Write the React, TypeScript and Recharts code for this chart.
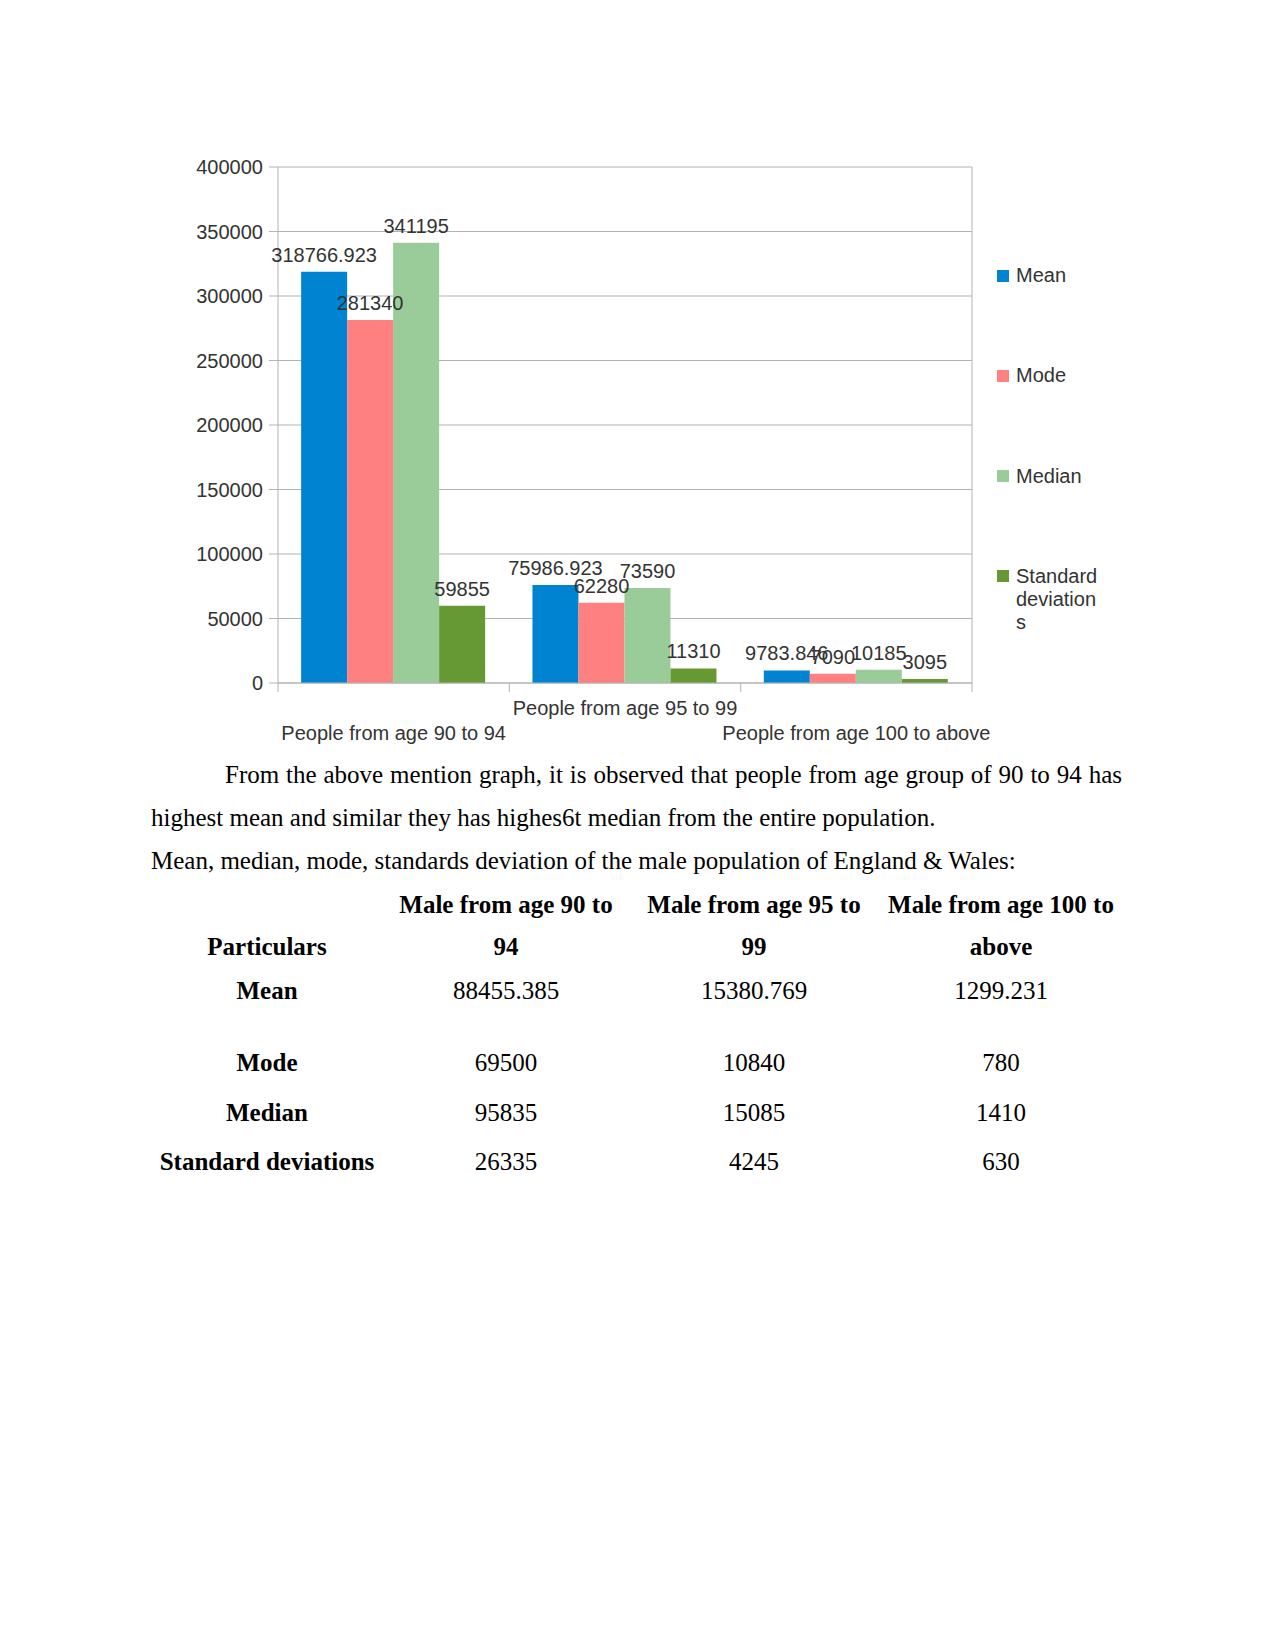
import React from "react";
import {
  BarChart,
  Bar,
  XAxis,
  YAxis,
  CartesianGrid,
  Legend,
  LabelList,
} from "recharts";

// chart values
const categories = [
  "People from age 90 to 94",
  "People from age 95 to 99",
  "People from age 100 to above",
];
const meanValues = [318766.923, 75986.923, 9783.846];
const modeValues = [281340, 62280, 7090];
const medianValues = [341195, 73590, 10185];
const sdValues = [59855, 11310, 3095];
const yTicks = [0, 50000, 100000, 150000, 200000, 250000, 300000, 350000, 400000];

// text under the chart
const paragraphLines = [
  "From the above mention graph, it is observed that people from age group of 90 to 94 has",
  "highest mean and similar they has highes6t median from the entire population.",
  "Mean, median, mode, standards deviation of the male population of England & Wales:",
];
const tableHeader = [
  ["", "Particulars"],
  ["Male from age 90 to", "94"],
  ["Male from age 95 to", "99"],
  ["Male from age 100 to", "above"],
];
const rowLabels = ["Mean", "Mode", "Median", "Standard deviations"];
const col90 = ["88455.385", "69500", "95835", "26335"];
const col95 = ["15380.769", "10840", "15085", "4245"];
const col100 = ["1299.231", "780", "1410", "630"];

const series = [
  { key: "mean", name: "Mean", color: "#0084d1" },
  { key: "mode", name: "Mode", color: "#ff8080" },
  { key: "median", name: "Median", color: "#99cc99" },
  { key: "sd", name: "Standard deviations", color: "#669933" },
];

const data = categories.map((name, i) => ({
  name,
  mean: meanValues[i],
  mode: modeValues[i],
  median: medianValues[i],
  sd: sdValues[i],
}));

const SANS = '"Liberation Sans", Arial, sans-serif';
const SERIF = '"Liberation Serif", "Times New Roman", serif';
const GRID = "#b3b3b3";
const TEXT = "#333333";

// staggered category labels plus tick marks on the category boundaries
const CategoryTick = (props: any) => {
  const { x, y, payload, index, width, visibleTicksCount } = props;
  const n = visibleTicksCount || categories.length;
  const band = (width || 694) / n;
  const upper = index % 2 === 1;
  return (
    <g>
      <line x1={x - band / 2} x2={x - band / 2} y1={y} y2={y + 9} stroke={GRID} />
      {index === n - 1 && (
        <line x1={x + band / 2} x2={x + band / 2} y1={y} y2={y + 9} stroke={GRID} />
      )}
      <text
        x={x}
        y={y + (upper ? 32 : 57)}
        textAnchor="middle"
        fill={TEXT}
        fontSize={20}
        fontFamily={SANS}
      >
        {payload.value}
      </text>
    </g>
  );
};

const renderLegend = () => (
  <div style={{ position: "relative", width: 120, fontFamily: SANS }}>
    {series.map((s, i) => (
      <div
        key={s.key}
        style={{
          position: "absolute",
          top: i * 100.3,
          left: 0,
          display: "flex",
          alignItems: "flex-start",
        }}
      >
        <div
          style={{
            width: 12,
            height: 12,
            marginTop: 5.5,
            marginRight: 7,
            background: s.color,
            flexShrink: 0,
          }}
        />
        <div
          style={{
            width: 84,
            fontSize: 20,
            lineHeight: "23px",
            color: TEXT,
            overflowWrap: "anywhere",
          }}
        >
          {s.name}
        </div>
      </div>
    ))}
  </div>
);

// right edge of the plot frame
const frameRight = ({ offset }: any) => [offset.left + offset.width];

const Chart = () => (
  <BarChart
    width={1275}
    height={770}
    data={data}
    margin={{ top: 167, right: 303, bottom: 7, left: 0 }}
    barCategoryGap="10%"
    barGap={0}
  >
    <CartesianGrid stroke={GRID} verticalCoordinatesGenerator={frameRight} />
    <XAxis
      dataKey="name"
      height={80}
      interval={0}
      tickLine={false}
      tickSize={0}
      tickMargin={0}
      axisLine={{ stroke: GRID }}
      tick={<CategoryTick />}
    />
    <YAxis
      width={278}
      domain={[0, 400000]}
      ticks={yTicks}
      interval={0}
      tickSize={9}
      tickMargin={6}
      tickLine={{ stroke: GRID }}
      axisLine={{ stroke: GRID }}
      tick={{ fill: TEXT, fontSize: 20, fontFamily: SANS }}
    />
    <Legend
      content={renderLegend}
      wrapperStyle={{ left: 997, top: 264, width: 130 }}
    />
    {series.map((s) => (
      <Bar
        key={s.key}
        dataKey={s.key}
        name={s.name}
        fill={s.color}
        isAnimationActive={false}
      >
        <LabelList
          dataKey={s.key}
          position="top"
          offset={10}
          fill={TEXT}
          fontSize={20}
          fontFamily={SANS}
        />
      </Bar>
    ))}
  </BarChart>
);

const colCenters = [267, 506, 754, 1001];
const colWidth = 240;
const headerTops = [883, 925];
const rowTops = [969, 1041, 1091, 1140];

const cell = (text: string, center: number, top: number, bold: boolean, key: string) => (
  <div
    key={key}
    style={{
      position: "absolute",
      left: center - colWidth / 2,
      top,
      width: colWidth,
      textAlign: "center",
      fontWeight: bold ? "bold" : "normal",
      whiteSpace: "nowrap",
    }}
  >
    {text}
  </div>
);

export default function App() {
  return (
    <div
      style={{
        position: "absolute",
        left: 0,
        top: 0,
        width: 1275,
        height: 1651,
        background: "#fff",
      }}
    >
      <Chart />
      <div
        style={{
          position: "absolute",
          left: 0,
          top: 0,
          fontFamily: SERIF,
          fontSize: 25,
          lineHeight: "43px",
          color: "#000",
        }}
      >
        <div
          style={{
            position: "absolute",
            left: 225,
            top: 753,
            width: 897,
            textAlign: "justify",
            textAlignLast: "justify",
            whiteSpace: "nowrap",
          }}
        >
          {paragraphLines[0]}
        </div>
        <div style={{ position: "absolute", left: 151, top: 796, whiteSpace: "nowrap" }}>
          {paragraphLines[1]}
        </div>
        <div style={{ position: "absolute", left: 151, top: 839, whiteSpace: "nowrap" }}>
          {paragraphLines[2]}
        </div>
        {tableHeader.map((h, c) => [
          cell(h[0], colCenters[c], headerTops[0], true, `h0-${c}`),
          cell(h[1], colCenters[c], headerTops[1], true, `h1-${c}`),
        ])}
        {rowLabels.map((label, r) => [
          cell(label, colCenters[0], rowTops[r], true, `l-${r}`),
          cell(col90[r], colCenters[1], rowTops[r], false, `a-${r}`),
          cell(col95[r], colCenters[2], rowTops[r], false, `b-${r}`),
          cell(col100[r], colCenters[3], rowTops[r], false, `c-${r}`),
        ])}
      </div>
    </div>
  );
}
